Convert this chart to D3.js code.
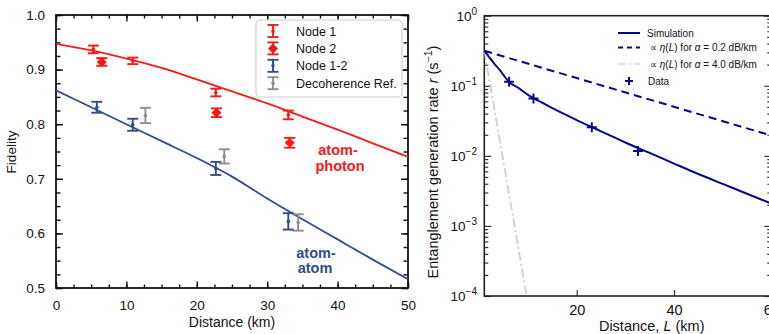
<!DOCTYPE html>
<html>
<head>
<meta charset="utf-8">
<script src="https://cdn.jsdelivr.net/npm/d3@7"></script>
<style>
  body { margin: 0; background: #fff; }
  svg text { font-family: "Liberation Sans", Arial, Helvetica, sans-serif; }
</style>
</head>
<body>
<div class="chart"></div>
<script>
// ---- left panel data (fidelity vs distance) ----
const fitDist = [0, 5, 10, 15, 20, 25, 30, 35, 40, 45, 50];
const atomPhotonFid = [0.947, 0.935, 0.920, 0.903, 0.882, 0.860, 0.838, 0.814, 0.790, 0.765, 0.740];
const atomAtomFid = [0.862, 0.831, 0.800, 0.769, 0.738, 0.704, 0.664, 0.626, 0.589, 0.552, 0.516];

const node1Dist = [5.3, 10.9, 22.7, 33.0];
const node1Fid = [0.937, 0.916, 0.858, 0.817];
const node1Err = [0.007, 0.006, 0.007, 0.008];

const node2Dist = [6.5, 22.8, 33.2];
const node2Fid = [0.914, 0.821, 0.766];
const node2Err = [0.007, 0.008, 0.009];

const node12Dist = [5.8, 10.9, 22.7, 33.0];
const node12Fid = [0.831, 0.799, 0.719, 0.622];
const node12Err = [0.010, 0.011, 0.012, 0.015];

const decDist = [12.7, 23.9, 34.4];
const decFid = [0.816, 0.741, 0.620];
const decErr = [0.014, 0.013, 0.015];

const leftXTicks = [0, 10, 20, 30, 40, 50];
const leftYTicks = [0.5, 0.6, 0.7, 0.8, 0.9, 1.0];

// ---- right panel data (rate vs distance) ----
const simDist = [1, 2, 3, 4, 5, 6, 8, 10, 12, 15, 20, 25, 30, 35, 40, 45, 50, 55, 60];
const simRate = [0.316, 0.257, 0.209, 0.174, 0.141, 0.115, 0.0933, 0.0741, 0.0617, 0.0479,
  0.0324, 0.0224, 0.0155, 0.0110, 0.00776, 0.0055, 0.00398, 0.00288, 0.00209];
const lowLossDist = [1, 60];
const lowLossRate = [0.316, 0.0195];
const highLossDist = [1, 9.7];
const highLossRate = [0.316, 0.0001];
const rateDist = [6.1, 11.1, 23.1, 32.6];
const rateVal = [0.114, 0.066, 0.0255, 0.0117];
const rightXTicks = [20, 40, 60];
const rightYExp = [0, -1, -2, -3, -4];

const red = "#f41a1a";
const navy = "#334c8c";
const grey = "#8e8e8e";
const deepBlue = "#07078c";

const svg = d3.select(".chart").append("svg")
  .attr("width", 769)
  .attr("height", 334);

// ================= LEFT PANEL =================
const x = d3.scaleLinear().domain([0, 50]).range([56, 408]);
const y = d3.scaleLinear().domain([0.5, 1]).range([288, 15]);

const left = svg.append("g");

// minor + major ticks on all four sides (pointing inward)
const minorX = d3.range(0, 50.01, 2.5);
const minorY = d3.range(0.5, 1.001, 0.025);

left.append("g").attr("transform", "translate(0,288)")
  .call(d3.axisBottom(x).tickValues(minorX).tickSize(-3.5).tickFormat(""));
left.append("g").attr("transform", "translate(0,15)")
  .call(d3.axisTop(x).tickValues(minorX).tickSize(-3.5).tickFormat(""));
left.append("g").attr("transform", "translate(56,0)")
  .call(d3.axisLeft(y).tickValues(minorY).tickSize(-4.5).tickFormat(""));
left.append("g").attr("transform", "translate(408,0)")
  .call(d3.axisRight(y).tickValues(minorY).tickSize(-4.5).tickFormat(""));

left.append("g").attr("transform", "translate(0,288)")
  .call(d3.axisBottom(x).tickValues(leftXTicks).tickSize(-6.5).tickPadding(12).tickFormat(d3.format("d")))
  .call(g => g.selectAll("text").attr("font-size", 13.5).attr("fill", "#111"));
left.append("g").attr("transform", "translate(0,15)")
  .call(d3.axisTop(x).tickValues(leftXTicks).tickSize(-6.5).tickFormat(""));
left.append("g").attr("transform", "translate(56,0)")
  .call(d3.axisLeft(y).tickValues(leftYTicks).tickSize(-7).tickPadding(11).tickFormat(d3.format(".1f")))
  .call(g => g.selectAll("text").attr("font-size", 13.5).attr("fill", "#111"));
left.append("g").attr("transform", "translate(408,0)")
  .call(d3.axisRight(y).tickValues(leftYTicks).tickSize(-7).tickFormat(""));

left.selectAll(".domain").remove();
left.selectAll(".tick line").attr("stroke", "#111").attr("stroke-width", 1.4);

left.append("rect")
  .attr("x", 56).attr("y", 15)
  .attr("width", 352).attr("height", 273)
  .attr("fill", "none").attr("stroke", "#111").attr("stroke-width", 1.8);

// fit curves
const line = d3.line()
  .x(d => x(d[0]))
  .y(d => y(d[1]))
  .curve(d3.curveMonotoneX);

left.append("path")
  .attr("d", line(d3.zip(fitDist, atomPhotonFid)))
  .attr("fill", "none").attr("stroke", red).attr("stroke-width", 1.8);
left.append("path")
  .attr("d", line(d3.zip(fitDist, atomAtomFid)))
  .attr("fill", "none").attr("stroke", navy).attr("stroke-width", 1.8);

// error bar helper
function errorBars(g, xs, ys, es, color, sx, sy) {
  const grp = g.append("g").attr("stroke", color).attr("stroke-width", 1.9);
  xs.forEach((d, i) => {
    const cx = sx(d);
    const top = sy(ys[i] + es[i]);
    const bot = sy(ys[i] - es[i]);
    grp.append("line").attr("x1", cx).attr("x2", cx).attr("y1", top).attr("y2", bot);
    grp.append("line").attr("x1", cx - 5.5).attr("x2", cx + 5.5).attr("y1", top).attr("y2", top);
    grp.append("line").attr("x1", cx - 5.5).attr("x2", cx + 5.5).attr("y1", bot).attr("y2", bot);
  });
}

function dots(g, xs, ys, color, sx, sy, r) {
  g.selectAll(null)
    .data(d3.zip(xs, ys))
    .enter()
    .append("circle")
    .attr("cx", d => sx(d[0]))
    .attr("cy", d => sy(d[1]))
    .attr("r", r)
    .attr("fill", color);
}

function diamonds(g, xs, ys, color, sx, sy, s) {
  g.selectAll(null)
    .data(d3.zip(xs, ys))
    .enter()
    .append("path")
    .attr("d", d => {
      const cx = sx(d[0]), cy = sy(d[1]);
      return `M${cx},${cy - s}L${cx + s},${cy}L${cx},${cy + s}L${cx - s},${cy}Z`;
    })
    .attr("fill", color);
}

errorBars(left, decDist, decFid, decErr, grey, x, y);
dots(left, decDist, decFid, grey, x, y, 1.8);
errorBars(left, node12Dist, node12Fid, node12Err, navy, x, y);
dots(left, node12Dist, node12Fid, navy, x, y, 1.8);
errorBars(left, node1Dist, node1Fid, node1Err, red, x, y);
dots(left, node1Dist, node1Fid, red, x, y, 1.8);
errorBars(left, node2Dist, node2Fid, node2Err, red, x, y);
diamonds(left, node2Dist, node2Fid, red, x, y, 5);

// curve labels
left.append("text").attr("x", 338).attr("y", 155).attr("text-anchor", "middle")
  .attr("font-size", 14.5).attr("font-weight", "bold").attr("fill", red).text("atom-");
left.append("text").attr("x", 340).attr("y", 170.5).attr("text-anchor", "middle")
  .attr("font-size", 14.5).attr("font-weight", "bold").attr("fill", red).text("photon");
left.append("text").attr("x", 316).attr("y", 257.5).attr("text-anchor", "middle")
  .attr("font-size", 14.5).attr("font-weight", "bold").attr("fill", navy).text("atom-");
left.append("text").attr("x", 315).attr("y", 272.5).attr("text-anchor", "middle")
  .attr("font-size", 14.5).attr("font-weight", "bold").attr("fill", navy).text("atom");

// legend
const legend = left.append("g");
legend.append("rect")
  .attr("x", 256).attr("y", 20).attr("width", 146).attr("height", 77).attr("rx", 4)
  .attr("fill", "#fff").attr("stroke", "#d0d0d0").attr("stroke-width", 1.2);
const legendItems = [
  { label: "Node 1", color: red, mark: "dot" },
  { label: "Node 2", color: red, mark: "diamond" },
  { label: "Node 1-2", color: navy, mark: "dot" },
  { label: "Decoherence Ref.", color: grey, mark: "dot" }
];
legendItems.forEach((it, i) => {
  const ly = 31 + i * 17.4;
  const g = legend.append("g").attr("stroke", it.color).attr("stroke-width", 1.9);
  g.append("line").attr("x1", 273).attr("x2", 273).attr("y1", ly - 6).attr("y2", ly + 6);
  g.append("line").attr("x1", 267.5).attr("x2", 278.5).attr("y1", ly - 6).attr("y2", ly - 6);
  g.append("line").attr("x1", 267.5).attr("x2", 278.5).attr("y1", ly + 6).attr("y2", ly + 6);
  if (it.mark === "diamond") {
    legend.append("path").attr("d", `M273,${ly - 5}L278,${ly}L273,${ly + 5}L268,${ly}Z`).attr("fill", it.color);
  } else {
    legend.append("circle").attr("cx", 273).attr("cy", ly).attr("r", 1.8).attr("fill", it.color);
  }
  legend.append("text").attr("x", 296).attr("y", ly + 4.5)
    .attr("font-size", 12.5).attr("fill", "#111").text(it.label);
});

// axis titles
left.append("text")
  .attr("transform", "translate(16,152) rotate(-90)")
  .attr("text-anchor", "middle").attr("font-size", 13.5).attr("fill", "#111")
  .text("Fidelity");
left.append("text")
  .attr("x", 232).attr("y", 327).attr("text-anchor", "middle")
  .attr("font-size", 14).attr("fill", "#111")
  .text("Distance (km)");

// ================= RIGHT PANEL =================
const x2 = d3.scaleLinear().domain([1, 60]).range([484.3, 771.3]);
const y2 = d3.scaleLog().domain([1e-4, 1]).range([296, 15.7]);

const right = svg.append("g");

right.append("clipPath").attr("id", "rclip")
  .append("rect").attr("x", 484.3).attr("y", 15.7).attr("width", 287).attr("height", 280.3);

const minorLog = [];
[-4, -3, -2, -1].forEach(e => {
  d3.range(2, 10).forEach(k => minorLog.push(k * Math.pow(10, e)));
});
const majorLog = rightYExp.map(e => Math.pow(10, e));

right.append("g").attr("transform", "translate(484.3,0)")
  .call(d3.axisLeft(y2).tickValues(minorLog).tickSize(-4).tickFormat(""));
right.append("g").attr("transform", "translate(484.3,0)")
  .call(d3.axisLeft(y2).tickValues(majorLog).tickSize(-7).tickFormat(""));
right.append("g").attr("transform", "translate(771.3,0)")
  .call(d3.axisRight(y2).tickValues(minorLog).tickSize(-4).tickFormat(""));
right.append("g").attr("transform", "translate(771.3,0)")
  .call(d3.axisRight(y2).tickValues(majorLog).tickSize(-7).tickFormat(""));
right.append("g").attr("transform", "translate(0,296)")
  .call(d3.axisBottom(x2).tickValues(rightXTicks).tickSize(-6).tickPadding(9).tickFormat(d3.format("d")))
  .call(g => g.selectAll("text").attr("font-size", 14.5).attr("fill", "#111"));

right.selectAll(".domain").remove();
right.selectAll(".tick line").attr("stroke", "#333").attr("stroke-width", 1.2);

right.append("rect")
  .attr("x", 484.3).attr("y", 15.7).attr("width", 287).attr("height", 280.3)
  .attr("fill", "none").attr("stroke", "#222").attr("stroke-width", 1.6);

// y tick labels 10^n
rightYExp.forEach(e => {
  const t = right.append("text")
    .attr("x", 477).attr("y", y2(Math.pow(10, e)) + 5)
    .attr("text-anchor", "end").attr("font-size", 13.5).attr("fill", "#111");
  t.append("tspan").text("10");
  t.append("tspan").attr("dy", -6).attr("font-size", 10).text(e === 0 ? "0" : "\u2212" + Math.abs(e));
});

const logLine = d3.line()
  .x(d => x2(d[0]))
  .y(d => y2(d[1]))
  .curve(d3.curveMonotoneX);

const plot = right.append("g").attr("clip-path", "url(#rclip)");
plot.append("path")
  .attr("d", logLine(d3.zip(highLossDist, highLossRate)))
  .attr("fill", "none").attr("stroke", "#cfcfcf").attr("stroke-width", 1.8)
  .attr("stroke-dasharray", "9,3,2,3");
plot.append("path")
  .attr("d", logLine(d3.zip(lowLossDist, lowLossRate)))
  .attr("fill", "none").attr("stroke", deepBlue).attr("stroke-width", 2)
  .attr("stroke-dasharray", "8,5");
plot.append("path")
  .attr("d", logLine(d3.zip(simDist, simRate)))
  .attr("fill", "none").attr("stroke", deepBlue).attr("stroke-width", 2);

// data crosses
plot.selectAll(null)
  .data(d3.zip(rateDist, rateVal))
  .enter()
  .append("path")
  .attr("d", d => {
    const cx = x2(d[0]), cy = y2(d[1]);
    return `M${cx - 5},${cy}H${cx + 5}M${cx},${cy - 5}V${cy + 5}`;
  })
  .attr("stroke", deepBlue).attr("stroke-width", 2);

// legend (no frame)
const rl = right.append("g");
const rlRows = [33, 47.5, 64, 81];
rl.append("line").attr("x1", 618).attr("x2", 640).attr("y1", rlRows[0]).attr("y2", rlRows[0])
  .attr("stroke", deepBlue).attr("stroke-width", 2);
rl.append("line").attr("x1", 618).attr("x2", 640).attr("y1", rlRows[1]).attr("y2", rlRows[1])
  .attr("stroke", deepBlue).attr("stroke-width", 2).attr("stroke-dasharray", "5,4");
rl.append("line").attr("x1", 618).attr("x2", 640).attr("y1", rlRows[2]).attr("y2", rlRows[2])
  .attr("stroke", "#d8d8d8").attr("stroke-width", 1.5).attr("stroke-dasharray", "8,3,2,3");
rl.append("path")
  .attr("d", `M625,${rlRows[3]}H633M629,${rlRows[3] - 4}V${rlRows[3] + 4}`)
  .attr("stroke", deepBlue).attr("stroke-width", 2);

rl.append("text").attr("x", 647).attr("y", rlRows[0] + 3.5).attr("font-size", 10).attr("fill", "#111")
  .text("Simulation");
[["0.2", rlRows[1]], ["4.0", rlRows[2]]].forEach(([a, ry]) => {
  const t = rl.append("text").attr("x", 650).attr("y", ry + 3.5).attr("font-size", 10).attr("fill", "#111");
  t.append("tspan").text("\u221D ");
  t.append("tspan").attr("font-style", "italic").text("\u03B7");
  t.append("tspan").text("(");
  t.append("tspan").attr("font-style", "italic").text("L");
  t.append("tspan").text(") for ");
  t.append("tspan").attr("font-style", "italic").text("\u03B1");
  t.append("tspan").text(` = ${a} dB/km`);
});
rl.append("text").attr("x", 648).attr("y", rlRows[3] + 3.5).attr("font-size", 10).attr("fill", "#111")
  .text("Data");

// axis titles
const yt = right.append("text")
  .attr("transform", "translate(438,162) rotate(-90)")
  .attr("text-anchor", "middle").attr("font-size", 14.5).attr("fill", "#111");
yt.append("tspan").text("Entanglement generation rate  ");
yt.append("tspan").attr("font-style", "italic").text("r");
yt.append("tspan").text(" (s");
yt.append("tspan").attr("dy", -6).attr("font-size", 10.5).text("\u22121");
yt.append("tspan").attr("dy", 6).text(")");

const xt = right.append("text")
  .attr("x", 651.7).attr("y", 331).attr("text-anchor", "middle")
  .attr("font-size", 14.5).attr("fill", "#111");
xt.append("tspan").text("Distance, ");
xt.append("tspan").attr("font-style", "italic").text("L");
xt.append("tspan").text(" (km)");
</script>
</body>
</html>
